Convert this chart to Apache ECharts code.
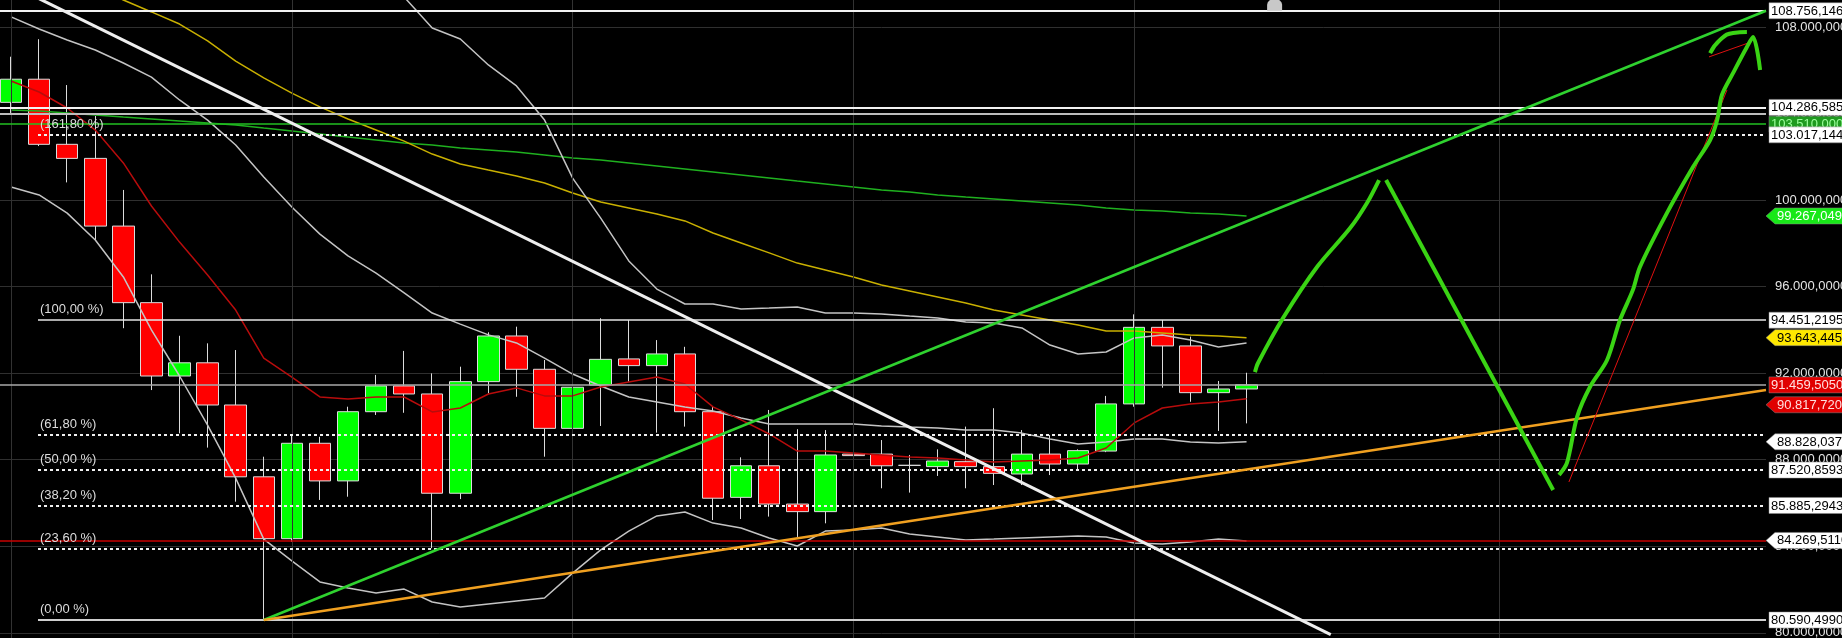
<!DOCTYPE html>
<html><head><meta charset="utf-8">
<script src="https://cdn.jsdelivr.net/npm/echarts@6/dist/echarts.min.js"></script>
<style>
html,body{margin:0;padding:0;background:#000;width:1842px;height:638px;overflow:hidden;position:relative;}
#c{position:absolute;left:-3px;top:-60px;width:1845px;height:780px;}
</style>
</head><body><div id="c"></div>
<script>
// ---------- DATA ----------
const categories = Array.from({length: 63}, (_, i) => 'P' + (i + 1));
const candleOpen  = [104.52,105.59,102.58,101.93,98.80,95.26,91.87,92.48,90.53,87.21,84.35,88.76,87.02,90.22,91.41,91.04,86.45,91.61,93.72,92.18,89.45,91.45,92.66,92.35,92.89,90.22,86.26,87.72,85.95,85.60,88.26,88.26,87.74,87.68,87.91,87.68,87.34,88.26,87.80,88.40,90.58,94.12,93.26,91.10,91.27];
const candleClose = [105.59,102.58,101.93,98.80,95.26,91.87,92.48,90.53,87.21,84.35,88.76,87.02,90.22,91.41,91.04,86.45,91.61,93.72,92.18,89.45,91.35,92.64,92.35,92.89,90.22,86.22,87.72,85.95,85.60,88.22,88.19,87.72,87.74,87.94,87.68,87.37,88.26,87.80,88.42,90.58,94.12,93.26,91.10,91.27,91.46];
const candleLow   = [104.03,102.50,100.82,98.16,94.08,91.22,89.22,88.56,86.06,80.5905,84.20,86.14,86.29,90.07,90.17,83.91,86.18,91.07,90.91,88.14,87.72,89.56,91.61,89.25,89.53,85.21,85.26,85.37,84.43,85.06,87.60,86.68,86.48,87.25,86.68,86.83,86.83,87.29,87.56,88.35,90.45,91.33,90.68,89.33,89.68];
const candleHigh  = [106.63,107.44,105.32,103.89,100.47,96.57,93.73,93.38,93.07,88.14,89.14,89.06,90.45,91.92,93.03,91.99,92.30,93.89,94.15,92.61,92.23,94.54,94.46,93.53,93.22,90.45,88.11,90.30,89.41,89.37,90.45,88.91,88.22,88.48,89.53,90.38,89.37,89.14,88.48,90.95,94.72,94.46,93.69,91.64,92.02];

const maRed    = [105.51,105.00,104.26,103.24,101.72,99.73,98.06,96.54,94.92,92.70,91.82,90.90,90.81,90.90,90.90,90.21,90.39,91.04,91.32,90.95,90.95,91.36,91.59,91.82,91.50,90.44,89.84,89.19,88.40,88.40,88.31,88.22,88.13,88.08,87.99,87.89,87.94,87.99,88.08,88.54,89.70,90.39,90.58,90.67,90.82];
const bbMiddle = [108.47,107.91,107.40,106.94,106.34,105.69,104.63,103.70,102.55,101.07,99.68,98.43,97.42,96.63,95.71,94.78,94.27,93.77,93.40,92.70,91.96,91.41,90.90,90.67,90.44,90.25,89.93,89.65,89.65,89.65,89.65,89.56,89.51,89.47,89.37,89.37,89.23,88.96,88.73,88.82,88.96,88.96,88.82,88.77,88.83];
const bbLower  = [100.61,100.24,99.40,98.16,96.45,94.00,91.87,89.60,87.15,84.33,83.32,82.35,82.07,81.84,82.02,81.42,81.19,81.33,81.47,81.61,82.76,83.83,84.70,85.40,85.58,85.07,84.84,84.38,84.01,84.70,84.75,84.84,84.57,84.43,84.29,84.33,84.38,84.43,84.47,84.43,84.15,84.10,84.20,84.33,84.24];
const bbUpper  = [null,null,null,null,null,null,null,null,null,null,null,null,null,110.87,109.39,107.96,107.45,106.25,105.28,103.70,101.02,99.17,97.19,95.89,95.20,95.20,94.97,95.01,95.06,94.78,94.78,94.74,94.64,94.55,94.37,94.32,94.09,93.30,92.89,92.98,93.63,93.77,93.53,93.21,93.40];
const maYellow = [111.47,111.01,110.50,109.94,109.25,108.70,108.14,107.36,106.43,105.65,104.95,104.31,103.75,103.24,102.73,102.13,101.67,101.39,101.12,100.79,100.33,99.91,99.64,99.36,99.04,98.48,98.02,97.56,97.09,96.77,96.45,96.08,95.80,95.52,95.24,94.92,94.69,94.46,94.23,93.95,93.95,93.86,93.77,93.72,93.64];
const maGreen  = [104.17,104.12,104.03,103.94,103.84,103.75,103.66,103.57,103.47,103.33,103.20,103.06,102.92,102.78,102.64,102.55,102.41,102.32,102.22,102.09,101.95,101.86,101.72,101.58,101.44,101.30,101.16,101.02,100.88,100.75,100.61,100.47,100.38,100.24,100.14,100.05,99.96,99.87,99.77,99.64,99.54,99.50,99.40,99.36,99.27];

const yTickValues = [76,80,84,88,92,96,100,104,108,112];
const yTickLabels = ['76.000,0000','80.000,0000','84.000,0000','88.000,0000','92.000,0000','96.000,0000','100.000,0000','104.000,0000','108.000,0000','112.000,0000'];

const levelValues = [108.756146, 104.286585, 104.00, 103.51, 91.459505, 84.269511];
const fibValues   = [103.017144, 94.4512195, 89.1563, 87.5208593, 85.8852943, 83.8616, 80.590499];
const fibNames    = ['(161,80 %)','(100,00 %)','(61,80 %)','(50,00 %)','(38,20 %)','(23,60 %)','(0,00 %)'];
const fibStartBar = 0.96;
const gridBars    = [0, 10, 20, 30, 40, 53];

const trendWhite  = [[0, 109.95], [47, 79.91]];
const trendGreen  = [[9, 80.5905], [62.5, 108.756]];
const trendOrange = [[9, 80.5905], [62.5, 91.22]];

const sketchUp    = [[44.30,92.05],[44.41,92.47],[45.30,94.55],[46.51,96.91],[47.69,98.71],[48.29,99.87],[48.72,100.93]];
const sketchDown  = [[48.97,100.93],[54.92,86.60]];
const sketchRally = [[55.13,87.29],[55.41,87.85],[55.77,89.97],[56.23,91.36],[56.84,92.61],[57.30,94.46],[57.76,95.85],[58.01,96.91],[58.97,99.40],[59.90,101.53],[60.51,102.78],[60.76,103.70],[60.93,104.86],[61.33,105.88],[61.82,107.08],[62.04,107.54],[62.29,106.02]];
const sketchCurl  = [[60.51,106.80],[60.86,107.40],[61.33,107.73],[61.82,107.77]];
const thinRedA    = [[55.48,86.97],[61.11,105.09]];
const thinRedB    = [[60.47,106.62],[61.86,107.26]];

const tagValues = [103.51, 108.756146, 104.286585, 103.017144, 99.267049, 94.4512195, 93.643445, 91.459505, 90.81772, 88.828037, 87.5208593, 85.8852943, 84.269511, 80.590499];
const tagTexts  = ['103.510,0000','108.756,1460','104.286,5850','103.017,1440','99.267,0490','94.451,2195','93.643,4450','91.459,5050','90.817,7200','88.828,0370','87.520,8593','85.885,2943','84.269,5110','80.590,4990'];

// ---------- STYLE ----------
const tagStyle = [
  {bg:'#1f9a1f', fg:'#9cff9c', arrow:false, dy:0},
  {bg:'#ffffff', fg:'#000', arrow:false, dy:0},
  {bg:'#ffffff', fg:'#000', arrow:false, dy:0},
  {bg:'#ffffff', fg:'#000', arrow:false, dy:0},
  {bg:'#18e818', fg:'#ffffff', arrow:true, dy:0},
  {bg:'#ffffff', fg:'#000', arrow:false, dy:0},
  {bg:'#ffe800', fg:'#000', arrow:true, dy:0},
  {bg:'#e00000', fg:'#ffdede', arrow:false, dy:0},
  {bg:'#e00000', fg:'#ffdede', arrow:true, dy:6},
  {bg:'#ffffff', fg:'#000', arrow:true, dy:0},
  {bg:'#ffffff', fg:'#000', arrow:false, dy:0},
  {bg:'#ffffff', fg:'#000', arrow:false, dy:0},
  {bg:'#ffffff', fg:'#000', arrow:true, dy:0},
  {bg:'#ffffff', fg:'#000', arrow:false, dy:0}
];
const levelStyle = [
  {color:'#f2f2f2', width:2, type:'solid'},
  {color:'#f2f2f2', width:2, type:'solid'},
  {color:'#bdbdbd', width:2, type:'solid'},
  {color:'#22c022', width:1.5, type:'solid'},
  {color:'#a9a9a9', width:1.5, type:'solid'},
  {color:'#c80000', width:1.5, type:'solid'}
];
const fibStyle = [
  {color:'#f0f0f0', width:2, type:[3,3]},
  {color:'#e6e6e6', width:1.5, type:'solid'},
  {color:'#f0f0f0', width:2, type:[3,3]},
  {color:'#f0f0f0', width:2, type:[3,3]},
  {color:'#f0f0f0', width:2, type:[3,3]},
  {color:'#f0f0f0', width:2, type:[3,3]},
  {color:'#cfcfcf', width:2, type:'solid'}
];
const FONT = '"Liberation Sans", Arial, sans-serif';

const candleData = candleOpen.map((o, i) => [o, candleClose[i], candleLow[i], candleHigh[i]]);

const markLineData = [];
gridBars.forEach(b => markLineData.push({xAxis: b, lineStyle: {color:'#323232', width:1, type:'solid'}, label:{show:false}}));
levelValues.forEach((v, k) => markLineData.push([
  {coord: [-0.5, v], lineStyle: levelStyle[k], label: {show: false}},
  {coord: [62.5, v]}
]));
fibValues.forEach((v, k) => markLineData.push([
  {coord: [fibStartBar, v], lineStyle: fibStyle[k],
   label: {show: true, position: 'insideStartTop', formatter: fibNames[k], color: '#dcdcdc', fontSize: 13, fontFamily: FONT, distance: [2, 4]}},
  {coord: [62.5, v]}
]));

function lineSeries(name, data, color, width, z, xIdx, extra) {
  return Object.assign({
    name, type: 'line', data, xAxisIndex: xIdx, yAxisIndex: 0, symbol: 'none', z,
    lineStyle: {color, width}, silent: true, connectNulls: false
  }, extra || {});
}

const chart = echarts.init(document.getElementById('c'), null, {renderer: 'canvas'});
chart.setOption({
  backgroundColor: '#000000',
  animation: false,
  textStyle: {fontFamily: FONT},
  grid: {left: 0, right: 76, top: 0.55, bottom: 0.70, containLabel: false, outerBoundsMode: 'none'},
  xAxis: [
    {type: 'category', data: categories, boundaryGap: true, axisLine: {show: false}, axisTick: {show: false}, axisLabel: {show: false}, splitLine: {show: false}},
    {type: 'value', min: -0.5, max: 62.5, show: false, splitLine: {show: false}}
  ],
  yAxis: [{
    type: 'value', position: 'right', min: 76, max: 112, interval: 4,
    axisLine: {show: true, lineStyle: {color: '#3a3a3a', width: 1}},
    axisTick: {show: false},
    axisLabel: {color: '#e4e4e4', fontSize: 13, fontFamily: FONT, margin: 9,
      formatter: v => { const k = yTickValues.indexOf(v); return k >= 0 ? yTickLabels[k] : ''; }},
    splitLine: {show: true, lineStyle: {color: '#2f2f2f', width: 1}}
  }],
  series: [
    {
      type: 'line', xAxisIndex: 1, yAxisIndex: 0, data: [], z: 1, silent: true,
      markLine: {silent: true, symbol: ['none', 'none'], animation: false, label: {show: false}, data: markLineData},
      markPoint: {silent: true, animation: false, data: [{coord: [45.0, 108.756146]}],
        symbol: 'path://M0,12 L0,6 A6,6 0 0 1 12,6 L12,12 Z', symbolSize: [15, 12], symbolOffset: [0, -6],
        itemStyle: {color: '#c8c8c8'}, label: {show: false}}
    },
    {
      type: 'candlestick', xAxisIndex: 0, yAxisIndex: 0, data: candleData, barWidth: 22, z: 3, silent: true,
      itemStyle: {color: '#00ff00', color0: '#ff0000', borderColor: '#dcdcdc', borderColor0: '#dcdcdc', borderColorDoji: '#dcdcdc', borderWidth: 1}
    },
    lineSeries('green MA', maGreen, '#1fb01f', 1.5, 4, 0),
    lineSeries('yellow MA', maYellow, '#c9b000', 1.5, 4, 0),
    lineSeries('BB upper', bbUpper, '#c4c4c4', 1.5, 4, 0),
    lineSeries('BB middle', bbMiddle, '#c4c4c4', 1.5, 4, 0),
    lineSeries('BB lower', bbLower, '#c4c4c4', 1.5, 4, 0),
    lineSeries('red MA', maRed, '#b80c0c', 1.5, 4, 0),
    lineSeries('white trend', trendWhite, '#eeeeee', 3, 5, 1),
    lineSeries('green trend', trendGreen, '#2fd22f', 2.5, 5, 1),
    lineSeries('orange trend', trendOrange, '#f0a020', 2.5, 5, 1),
    lineSeries('thin red A', thinRedA, '#e01010', 1, 6, 1),
    lineSeries('thin red B', thinRedB, '#e01010', 1, 6, 1),
    lineSeries('sketch up', sketchUp, '#3ad414', 4, 7, 1, {smooth: 0.3}),
    lineSeries('sketch down', sketchDown, '#3ad414', 4, 7, 1),
    lineSeries('sketch rally', sketchRally, '#3ad414', 4, 7, 1, {smooth: 0.3}),
    lineSeries('sketch curl', sketchCurl, '#3ad414', 4, 7, 1, {smooth: 0.5}),
    {
      type: 'custom', xAxisIndex: 1, yAxisIndex: 0, clip: false, z: 20, silent: true,
      data: tagValues.map((v, i) => [62.5, v, i]),
      encode: {x: 0, y: 1},
      renderItem: function (params, api) {
        const idx = api.value(2);
        const st = tagStyle[idx];
        const cs = params.coordSys;
        const xr = cs.x + cs.width;
        const y = api.coord([62.5, api.value(1)])[1] + st.dy;
        const h = 16, far = xr + 120;
        let pts, tx;
        if (st.arrow) {
          pts = [[xr, y], [xr + 9, y - h / 2], [far, y - h / 2], [far, y + h / 2], [xr + 9, y + h / 2]];
          tx = xr + 11;
        } else {
          pts = [[xr + 3, y - h / 2], [far, y - h / 2], [far, y + h / 2], [xr + 3, y + h / 2]];
          tx = xr + 5;
        }
        return {type: 'group', children: [
          {type: 'polygon', shape: {points: pts}, style: {fill: st.bg, stroke: '#888', lineWidth: 0.5}},
          {type: 'text', style: {text: tagTexts[idx], x: tx, y: y + 0.5, verticalAlign: 'middle', align: 'left', fill: st.fg, font: '13px ' + FONT}}
        ]};
      }
    }
  ]
});
</script></body></html>
